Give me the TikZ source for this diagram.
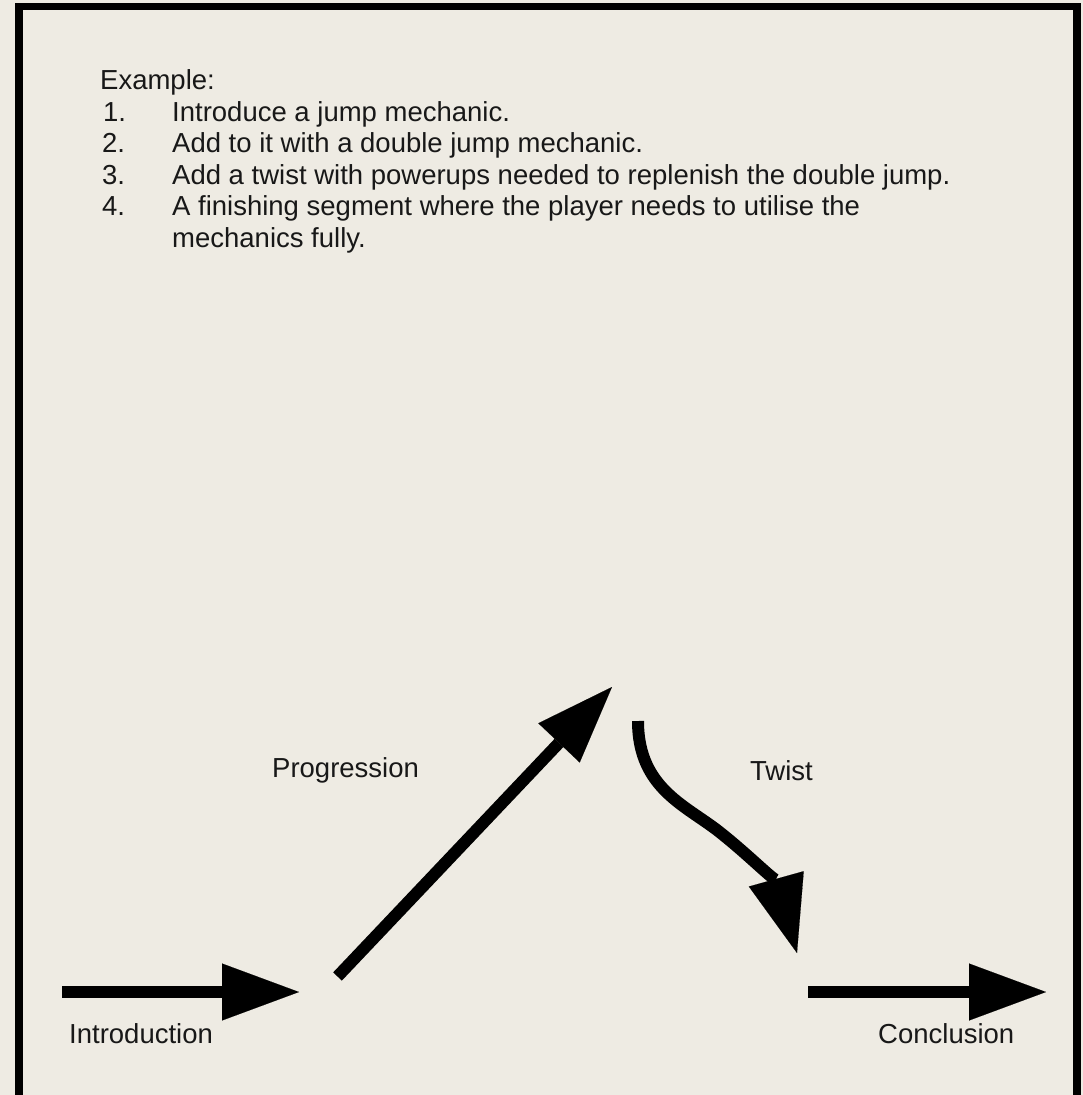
\documentclass[tikz,border=0pt]{standalone}
\usepackage{fontspec}
\setmainfont{Liberation Sans}
\usetikzlibrary{arrows.meta}
\definecolor{bg}{RGB}{238,235,227}
\definecolor{ink}{RGB}{24,24,24}
\begin{document}
\begin{tikzpicture}[x=1pt,y=-1pt,
  txt/.style={font=\fontsize{27.5}{33}\selectfont, text=ink, inner sep=0pt, anchor=base west},
  flow/.style={line width=12pt, draw=black, -{Triangle[length=77pt,width=57pt,line width=0.1pt]}},
  frame/.style={line width=7.5pt, draw=black, line join=miter}]
\fill[bg] (0,0) rectangle (1083,1095);
\useasboundingbox (0,0) rectangle (1083,1095);
\begin{scope}
  \clip (0,0) rectangle (1083,1095);
  \draw[frame] (19,6.5) rectangle (1077,1130);
\end{scope}

% list text
\node[txt] (ex) at (100,89) {Example:};
\node[txt] (n1) at (103,121) {1.};
\node[txt] (t1) at (172,121) {Introduce a jump mechanic.};
\node[txt] (n2) at (102,152.5) {2.};
\node[txt] (t2) at (172,152.5) {Add to it with a double jump mechanic.};
\node[txt] (n3) at (102,184) {3.};
\node[txt] (t3) at (172,184) {Add a twist with powerups needed to replenish the double jump.};
\node[txt] (n4) at (102,215.5) {4.};
\node[txt] (t4) at (172,215.5) {A finishing segment where the player needs to utilise the};
\node[txt] (t4b) at (172,247) {mechanics fully.};

% arrow end points
\coordinate (introS) at (62,992);
\coordinate (introE) at (299,992);
\coordinate (progS) at (337.5,976.5);
\coordinate (progE) at (612,687);
\coordinate (twistS) at (638,721);
\coordinate (twistE) at (797,953);
\coordinate (conclS) at (808,992);
\coordinate (conclE) at (1046,992);

\draw[flow] (introS) -- (introE);
\draw[flow] (progS) -- (progE);
\draw[flow] (twistS) .. controls (638,790) and (688,806) .. (722,834)
                     .. controls (752,858) and (778,885) .. (twistE);
\draw[flow] (conclS) -- (conclE);

% labels
\node[txt] (lintro) at (69,1043) {Introduction};
\node[txt] (lprog) at (272,777) {Progression};
\node[txt] (ltwist) at (750,780) {Twist};
\node[txt] (lconcl) at (878,1043) {Conclusion};
\end{tikzpicture}
\end{document}
